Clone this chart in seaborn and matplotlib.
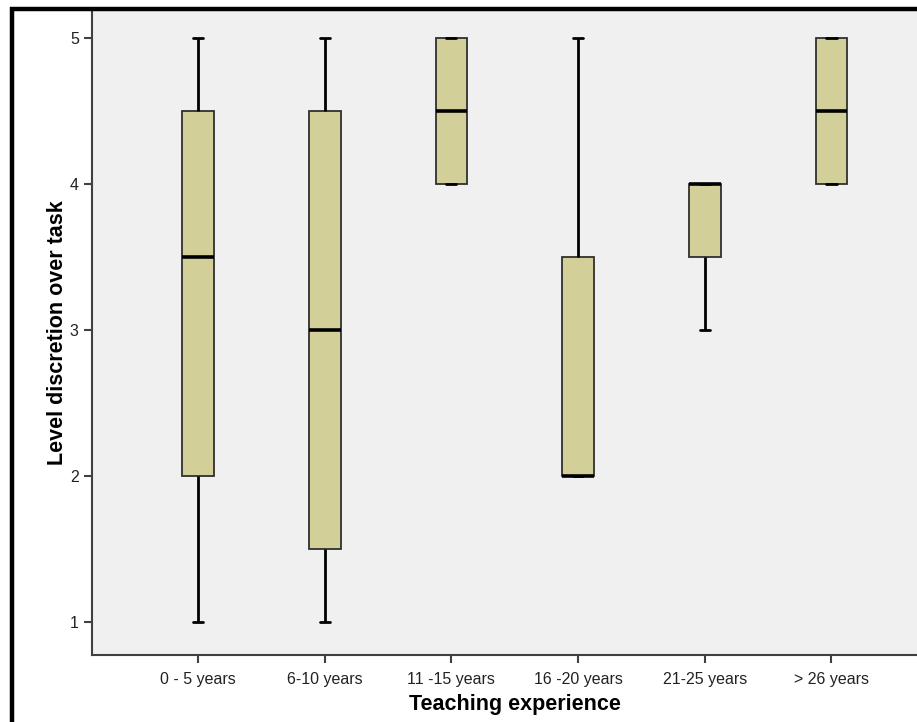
import pandas as pd
import matplotlib.pyplot as plt
import matplotlib.patches as mpatches
import seaborn as sns

# Five-number summaries
groups = ['0 - 5 years', '6-10 years', '11 -15 years', '16 -20 years', '21-25 years', '> 26 years']
mins = [1, 1, 4, 2, 3, 4]
q1s = [2, 1.5, 4, 2, 3.5, 4]
medians = [3.5, 3, 4.5, 2, 4, 4.5]
q3s = [4.5, 4.5, 5, 3.5, 4, 5]
maxs = [5, 5, 5, 5, 4, 5]

# long table: the five values per group reproduce the same quartiles
rows = []
for g, a, b, c, d, e in zip(groups, mins, q1s, medians, q3s, maxs):
    for v in (a, b, c, d, e):
        rows.append({'Teaching experience': g, 'Level discretion over task': v})
df = pd.DataFrame(rows)

sns.set_style('white')
plt.rcParams['font.family'] = ['Liberation Sans', 'DejaVu Sans']

fig = plt.figure(figsize=(9.17, 7.22), dpi=100)
ax = fig.add_axes([92 / 917, 1 - 655 / 722, 1 - 92 / 917, (655 - 11) / 722])
ax.set_facecolor('#f0f0f0')

sns.boxplot(data=df, x='Teaching experience', y='Level discretion over task',
            order=groups, width=0.25, color='#d3cf99', linecolor='#303030',
            linewidth=1.3, saturation=1, whis=1.5, capwidths=0.08,
            boxprops=dict(edgecolor='#303030', linewidth=1.3),
            medianprops=dict(color='black', linewidth=2.6),
            whiskerprops=dict(color='black', linewidth=2),
            capprops=dict(color='black', linewidth=2),
            ax=ax)

ax.set_ylim(0.774, 5.185)
ax.set_xlim(-0.837, 5.675)
ax.set_yticks([1, 2, 3, 4, 5])

for s in ['top', 'right']:
    ax.spines[s].set_visible(False)
for s in ['left', 'bottom']:
    ax.spines[s].set_color('#404040')
    ax.spines[s].set_linewidth(1.5)

ax.tick_params(axis='both', direction='out', length=6, width=1.5, color='#404040',
               labelsize=11.5, labelcolor='#222222', bottom=True, left=True)
ax.tick_params(axis='x', pad=6)
ax.set_xlabel('Teaching experience', fontsize=15.5, fontweight='bold',
              color='black', labelpad=5)
ax.set_ylabel('Level discretion over task', fontsize=15.5, fontweight='bold',
              color='black', labelpad=1)
ax.xaxis.label.set_x(0.513)

# black outer frame (left and top edges visible)
frame = mpatches.Rectangle((11.5 / 917, -0.1), 1.2, 1.1 - 9.5 / 722,
                           transform=fig.transFigure, fill=False,
                           edgecolor='black', linewidth=3.2, zorder=10)
fig.patches.append(frame)

fig.savefig('out.png', dpi=100)
